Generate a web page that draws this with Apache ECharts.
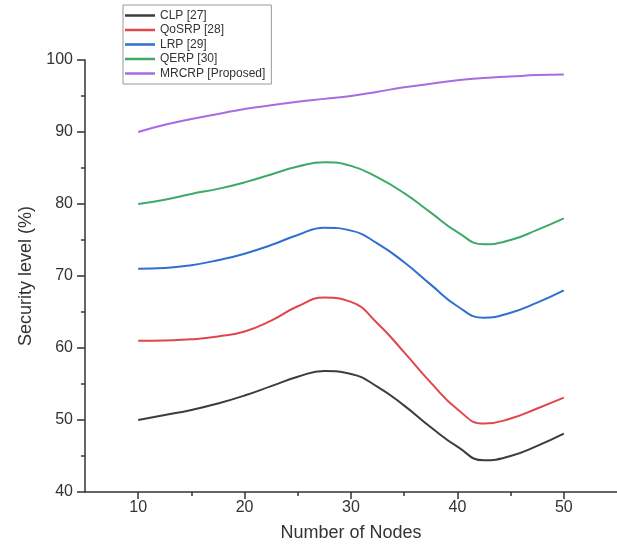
<!DOCTYPE html>
<html>
<head>
<meta charset="utf-8">
<script src="https://cdn.jsdelivr.net/npm/echarts@6/dist/echarts.min.js"></script>
<style>
html,body{margin:0;padding:0;background:#fff;}
#chart{width:617px;height:559px;}
</style>
</head>
<body>
<div id="chart"></div>
<script>
const nodes = [10, 12.5, 15, 17.5, 20, 22.5, 25, 27.5, 30, 32.5, 35, 37.5, 40, 42.5, 45, 47.5, 50];
const clp   = [50, 50.7, 51.4, 52.3, 53.4, 54.7, 56.0, 56.8, 56.4, 54.6, 52.0, 49.0, 46.3, 44.4, 45.0, 46.4, 48.1];
const qosrp = [61, 61.05, 61.2, 61.6, 62.3, 63.8, 65.8, 67.0, 66.4, 63.4, 59.4, 55.2, 51.5, 49.5, 50.2, 51.6, 53.1];
const lrp   = [71, 71.1, 71.5, 72.2, 73.1, 74.3, 75.7, 76.7, 76.3, 74.5, 71.9, 68.8, 65.8, 64.2, 64.9, 66.3, 68];
const qerp  = [80, 80.6, 81.4, 82.1, 83.0, 84.1, 85.2, 85.8, 85.3, 83.7, 81.5, 78.8, 76.1, 74.4, 75.0, 76.4, 78];
const mrcrp = [90, 91.0, 91.8, 92.5, 93.2, 93.7, 94.2, 94.6, 95.0, 95.6, 96.2, 96.7, 97.2, 97.5, 97.7, 97.9, 98];
const seriesNames = ['CLP [27]', 'QoSRP [28]', 'LRP [29]', 'QERP [30]', 'MRCRP [Proposed]'];
const seriesData = [clp, qosrp, lrp, qerp, mrcrp];
const colors = ['#3c3c3c', '#e0464b', '#2f6fd0', '#3daa68', '#a66ce0'];
const xMajor = [10, 20, 30, 40, 50];
const xMinor = [15, 25, 35, 45];

const font = 'Liberation Sans, Arial, sans-serif';
const chart = echarts.init(document.getElementById('chart'));
const axisLine = {show: true, lineStyle: {color: '#333', width: 1.5}};
chart.setOption({
  animation: false,
  color: colors,
  textStyle: {fontFamily: font},
  grid: {left: 85, top: 60, right: 0, bottom: 67},
  legend: {
    orient: 'vertical', left: 123, top: 5,
    padding: [4, 6, 4, 2],
    borderColor: '#999', borderWidth: 1,
    icon: 'rect',
    itemWidth: 30, itemHeight: 2.5, itemGap: 1.5,
    textStyle: {fontSize: 12, color: '#333', fontFamily: font, lineHeight: 13},
    data: seriesNames
  },
  xAxis: [{
    type: 'value', min: 5, max: 55,
    name: 'Number of Nodes', nameLocation: 'middle', nameGap: 32,
    nameTextStyle: {fontSize: 18, color: '#333', fontFamily: font},
    axisLine: axisLine,
    axisTick: {show: true, inside: false, length: 7, customValues: xMajor, lineStyle: {color: '#333', width: 1.5}},
    axisLabel: {customValues: xMajor, fontSize: 16, color: '#333', margin: 8, fontFamily: font},
    splitLine: {show: false}
  }, {
    type: 'value', min: 5, max: 55, position: 'bottom',
    axisLine: {show: false},
    axisTick: {show: true, inside: false, length: 4, customValues: xMinor, lineStyle: {color: '#333', width: 1.5}},
    axisLabel: {show: false},
    splitLine: {show: false}
  }],
  yAxis: {
    type: 'value', min: 40, max: 100, interval: 10,
    name: 'Security level (%)', nameLocation: 'middle', nameGap: 50,
    nameTextStyle: {fontSize: 18, color: '#333', fontFamily: font},
    axisLine: axisLine,
    axisTick: {show: true, inside: false, length: 8, lineStyle: {color: '#333', width: 1.5}},
    minorTick: {show: true, splitNumber: 2, length: 4, lineStyle: {color: '#333', width: 1.5}},
    axisLabel: {fontSize: 16, color: '#333', margin: 12, fontFamily: font},
    splitLine: {show: false}
  },
  series: seriesNames.map((name, i) => ({
    name: name, type: 'line', smooth: 0.5, symbol: 'none',
    lineStyle: {width: 2, color: colors[i]},
    data: nodes.map((x, j) => [x, seriesData[i][j]])
  }))
});
</script>
</body>
</html>
